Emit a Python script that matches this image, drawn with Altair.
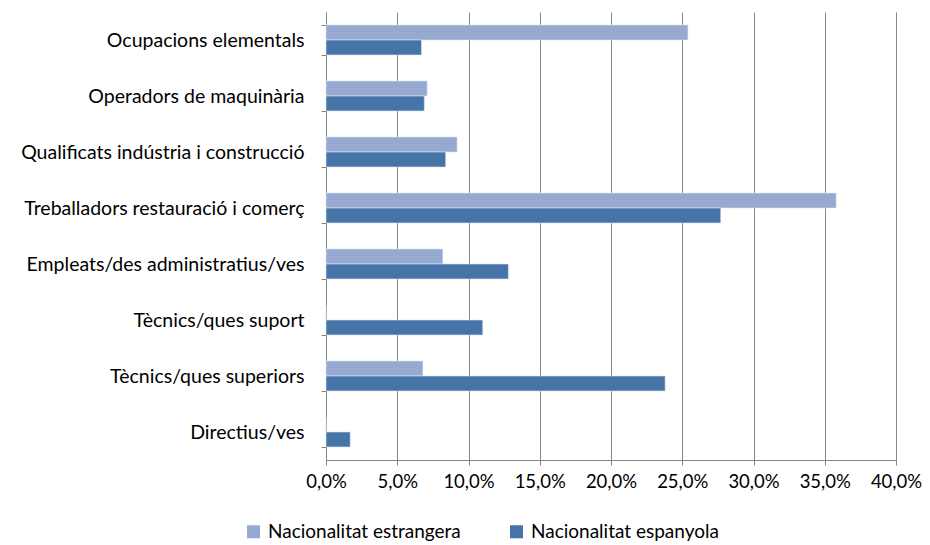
import altair as alt
import pandas as pd

categories = [
    "Ocupacions elementals",
    "Operadors de maquinària",
    "Qualificats indústria i construcció",
    "Treballadors restauració i comerç",
    "Empleats/des administratius/ves",
    "Tècnics/ques suport",
    "Tècnics/ques superiors",
    "Directius/ves",
]
series = ["Nacionalitat estrangera", "Nacionalitat espanyola"]
estrangera = [25.4, 7.1, 9.2, 35.8, 8.2, 0.0, 6.8, 0.0]
espanyola = [6.7, 6.9, 8.4, 27.7, 12.8, 11.0, 23.8, 1.7]
x_ticks = [0, 5, 10, 15, 20, 25, 30, 35, 40]

rows = []
for c, a, b in zip(categories, estrangera, espanyola):
    rows.append({"cat": c, "serie": series[0], "val": a})
    rows.append({"cat": c, "serie": series[1], "val": b})
df = pd.DataFrame(rows)

FONT = "Lato"
FS = 19.5

chart = alt.Chart(df).mark_bar(stroke="#dfe6f2", strokeWidth=0.6).encode(
    x=alt.X(
        "val:Q",
        scale=alt.Scale(domain=[0, 40], nice=False),
        axis=alt.Axis(
            values=x_ticks,
            title=None,
            labelExpr="replace(format(datum.value, '.1f'), '.', ',') + '%'",
            labelOverlap=False,
            labelFlush=False,
            grid=True,
            gridColor="#868686",
            gridWidth=1,
            domainColor="#868686",
            tickColor="#868686",
            tickSize=5,
            labelPadding=7,
            labelFontSize=18.5,
            labelFont=FONT,
            labelColor="#000000",
        ),
    ),
    y=alt.Y(
        "cat:N",
        sort=categories,
        scale=alt.Scale(paddingInner=0.464, paddingOuter=0.232),
        axis=alt.Axis(
            title=None,
            tickBand="extent",
            domainColor="#868686",
            tickColor="#868686",
            tickSize=5,
            labelPadding=17,
            labelFontSize=FS,
            labelFont=FONT,
            labelColor="#000000",
            labelLimit=400,
        ),
    ),
    yOffset=alt.YOffset("serie:N", sort=series, scale=alt.Scale(paddingInner=0, paddingOuter=0)),
    color=alt.Color(
        "serie:N",
        sort=series,
        scale=alt.Scale(domain=series, range=["#95A9D1", "#4674A8"]),
        legend=alt.Legend(
            title=None,
            orient="none",
            legendX=-82,
            legendY=510,
            direction="horizontal",
            symbolType="square",
            symbolSize=169,
            symbolStrokeWidth=0,
            labelFontSize=19,
            labelFont=FONT,
            labelColor="#000000",
            labelOffset=5,
            columnPadding=46,
            labelLimit=400,
            padding=0,
        ),
    ),
).properties(
    width=570,
    height=448,
    autosize=alt.AutoSizeParams(type="none"),
    padding={"left": 318, "top": 4, "right": 26, "bottom": 83},
).configure_view(stroke=None)

chart.save("out.html", embed_options={"renderer": "svg", "actions": False})
